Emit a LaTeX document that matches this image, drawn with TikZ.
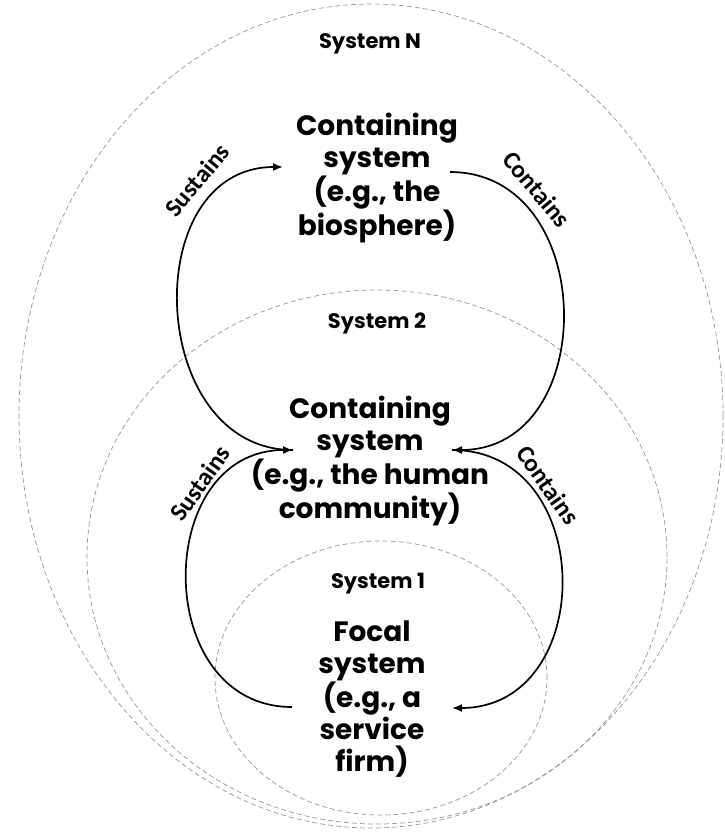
\documentclass[tikz,border=0pt]{standalone}
\usepackage{fontspec}
\setmainfont{Poppins}
\newfontfamily\arcfont{Carlito}
\usetikzlibrary{arrows.meta,positioning,shapes.geometric}
\definecolor{ringgray}{RGB}{150,150,150}

\begin{document}
\begin{tikzpicture}[x=1pt,y=-1pt,>={Latex[length=10pt,width=8pt]},
  sysring/.style={draw=ringgray,ellipse,dash pattern=on 5pt off 3pt,line width=0.7pt,inner sep=0pt,outer sep=0pt},
  bigtext/.style={align=center,font=\fontsize{28}{32}\selectfont\bfseries},
  syslabel/.style={anchor=base,font=\fontsize{21}{24}\selectfont\bfseries},
  arclabel/.style={font=\arcfont\bfseries\fontsize{25}{28}\selectfont},
  cycleline/.style={->,line width=1.7pt}]
\useasboundingbox (0,0) rectangle (725,833);
% nested systems
\node[sysring,minimum width=704pt,minimum height=824pt] (sysN) at (371,416) {};
\node[sysring,minimum width=580pt,minimum height=534pt] (sys2) at (377,557) {};
\node[sysring,minimum width=332pt,minimum height=274pt] (sys1) at (381,678) {};
\node[syslabel] (labN) at (370,48) {System N};
\node[syslabel] (lab2) at (377,328) {System 2};
\node[syslabel] (lab1) at (378,588) {System 1};
% the three systems
\node[bigtext] (outer) at (377,178) {Containing\\system\\(e.g., the\\biosphere)};
\node[bigtext] (human) at (370,461) {Containing\\system\\(e.g., the human\\community)};
\node[bigtext] (focal) at (372,699) {Focal\\system\\(e.g., a\\service\\firm)};
\coordinate (outerL) at (283,167);
\coordinate (outerR) at (450,172);
\coordinate (humanL) at (293,450);
\coordinate (humanR) at (452,450);
\coordinate (focalL) at (292,707);
\coordinate (focalR) at (452,708);
% sustains / contains
\draw[cycleline] (focalL) to[out=180,in=180,looseness=1.4] (humanL);
\draw[cycleline] (humanL) to[out=180,in=180,looseness=1.32] (outerL);
\draw[cycleline] (outerR) to[out=0,in=0,looseness=1.37] (humanR);
\draw[cycleline] (humanR) to[out=0,in=0,looseness=1.45] (focalR);
\node[arclabel,rotate=50] (sustTop) at (197,180) {Sustains};
\node[arclabel,rotate=-50] (contTop) at (537,189) {Contains};
\node[arclabel,rotate=55] (sustLow) at (200,483) {Sustains};
\node[arclabel,rotate=-55] (contLow) at (548,485) {Contains};
\end{tikzpicture}
\end{document}
